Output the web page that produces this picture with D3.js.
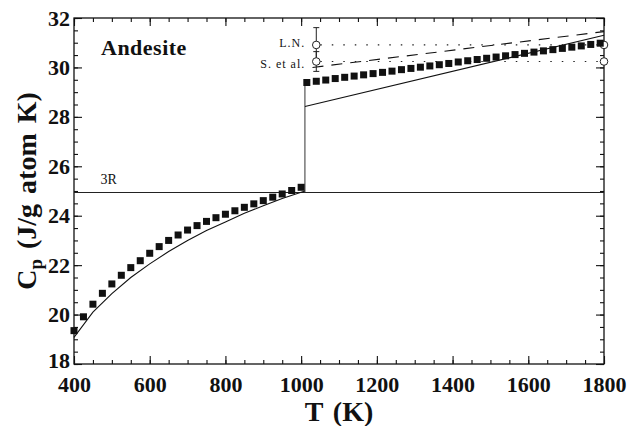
<!DOCTYPE html>
<html><head><meta charset="utf-8">
<script src="https://cdn.jsdelivr.net/npm/d3@7/dist/d3.min.js"></script>
<style>body{margin:0;background:#fff} svg{display:block}</style>
</head><body><svg id="c" width="632" height="426"></svg>
<script>
// ---- data ----
const xTicks = [400, 600, 800, 1000, 1200, 1400, 1600, 1800];
const yTicks = [18, 20, 22, 24, 26, 28, 30, 32];
const lowT  = [400,425,450,475,500,525,550,575,600,625,650,675,700,725,750,775,800,825,850,875,900,925,950,975,1000];
const lowCp = [19.35,19.91,20.42,20.86,21.24,21.59,21.90,22.18,22.48,22.75,23.00,23.22,23.42,23.60,23.77,23.92,24.06,24.20,24.34,24.48,24.61,24.75,24.88,25.02,25.15];
const highT  = [1015,1040,1065,1090,1115,1140,1165,1190,1215,1240,1265,1290,1315,1340,1365,1390,1415,1440,1465,1490,1515,1540,1565,1590,1615,1640,1665,1690,1715,1740,1765,1790];
const highCp = [29.39,29.44,29.49,29.55,29.60,29.65,29.70,29.75,29.80,29.85,29.91,29.96,30.01,30.06,30.11,30.16,30.22,30.27,30.32,30.37,30.42,30.47,30.52,30.57,30.62,30.67,30.72,30.77,30.82,30.87,30.93,30.98];
const modelLowT  = [400,450,500,550,600,650,700,750,800,850,900,950,1010];
const modelLowCp = [19.08,20.10,20.85,21.50,22.05,22.55,23.00,23.40,23.75,24.10,24.40,24.70,25.00];
const modelHighT  = [1010, 1800];
const modelHighCp = [28.42, 31.30];
const dashT  = [1030, 1800];
const dashCp = [30.00, 31.45];
const transitionT = 1010;
const transitionCp = [24.94, 29.39];
const threeR = 24.94;
const refNames = ["L.N.", "S. et al."];
const refT = [1040, 1800];
const refCp = [30.91, 30.24];
const refErr = [0.70, 0.40];

// ---- layout ----
const svg = d3.select("#c");
const m = {l: 74, r: 604, t: 18, b: 364};
const x = d3.scaleLinear().domain([400, 1800]).range([m.l, m.r]);
const y = d3.scaleLinear().domain([18, 32]).range([m.b, m.t]);
const serif = "'Liberation Serif','Times New Roman',serif";
const W = m.r - m.l, H = m.b - m.t;

// minor ticks
const xMinor = d3.range(400, 1801, 50), yMinor = d3.range(18, 32.01, 0.5);
function styleAxis(g){ g.select(".domain").remove(); g.selectAll("line").attr("stroke","#111").attr("stroke-width",1.1); }
svg.append("g").attr("transform",`translate(0,${m.b})`).call(d3.axisBottom(x).tickValues(xMinor).tickSize(-4).tickFormat("")).call(styleAxis);
svg.append("g").attr("transform",`translate(0,${m.t})`).call(d3.axisTop(x).tickValues(xMinor).tickSize(-4).tickFormat("")).call(styleAxis);
svg.append("g").attr("transform",`translate(${m.l},0)`).call(d3.axisLeft(y).tickValues(yMinor).tickSize(-4).tickFormat("")).call(styleAxis);
svg.append("g").attr("transform",`translate(${m.r},0)`).call(d3.axisRight(y).tickValues(yMinor).tickSize(-4).tickFormat("")).call(styleAxis);
// major ticks + labels
const gx = svg.append("g").attr("transform",`translate(0,${m.b})`).call(d3.axisBottom(x).tickValues(xTicks).tickSize(-8).tickPadding(12).tickFormat(d3.format("d"))).call(styleAxis);
svg.append("g").attr("transform",`translate(0,${m.t})`).call(d3.axisTop(x).tickValues(xTicks).tickSize(-8).tickFormat("")).call(styleAxis);
const gy = svg.append("g").attr("transform",`translate(${m.l},0)`).call(d3.axisLeft(y).tickValues(yTicks).tickSize(-8).tickPadding(4).tickFormat(d3.format("d"))).call(styleAxis);
svg.append("g").attr("transform",`translate(${m.r},0)`).call(d3.axisRight(y).tickValues(yTicks).tickSize(-8).tickFormat("")).call(styleAxis);
[gx, gy].forEach(g => g.selectAll("text").attr("font-family", serif).attr("font-weight","bold").attr("font-size", 22).attr("fill","#111"));
gy.selectAll("text").filter(d => d === 18).attr("dy", "0.18em");

// frame
svg.append("rect").attr("x",m.l).attr("y",m.t).attr("width",W).attr("height",H).attr("fill","none").attr("stroke","#111").attr("stroke-width",1.3);

// 3R line
svg.append("line").attr("x1",m.l).attr("x2",m.r).attr("y1",y(threeR)).attr("y2",y(threeR)).attr("stroke","#222").attr("stroke-width",1.1);
svg.append("text").attr("x",x(470)).attr("y",y(threeR)-8).attr("font-family",serif).attr("font-size",14).attr("fill","#111").text("3R");

// transition line
svg.append("line").attr("x1",x(transitionT)).attr("x2",x(transitionT)).attr("y1",y(transitionCp[0])).attr("y2",y(transitionCp[1])).attr("stroke","#333").attr("stroke-width",1);

const line = d3.line().x(d => x(d[0])).y(d => y(d[1]));
// model curves
svg.append("path").attr("d", line(d3.zip(modelLowT, modelLowCp))).attr("fill","none").attr("stroke","#111").attr("stroke-width",1.1);
svg.append("path").attr("d", line(d3.zip(modelHighT, modelHighCp))).attr("fill","none").attr("stroke","#111").attr("stroke-width",1.1);
// dashed
svg.append("path").attr("d", line(d3.zip(dashT, dashCp))).attr("fill","none").attr("stroke","#111").attr("stroke-width",1.1).attr("stroke-dasharray","11,8");

// reference dotted lines, error bars, circles
refCp.forEach((v, i) => {
  svg.append("line").attr("x1",x(refT[0])+4).attr("x2",x(refT[1])-4).attr("y1",y(v)).attr("y2",y(v))
    .attr("stroke","#222").attr("stroke-width",1.2).attr("stroke-dasharray","1.5,10");
  const cx = x(refT[0]);
  svg.append("line").attr("x1",cx).attr("x2",cx).attr("y1",y(v+refErr[i])).attr("y2",y(v-refErr[i])).attr("stroke","#222").attr("stroke-width",1);
  [v+refErr[i], v-refErr[i]].forEach(e => svg.append("line").attr("x1",cx-3).attr("x2",cx+3).attr("y1",y(e)).attr("y2",y(e)).attr("stroke","#222").attr("stroke-width",1));
  refT.forEach(t => svg.append("circle").attr("cx",x(t)).attr("cy",y(v)).attr("r",3.8).attr("fill","#fff").attr("stroke","#222").attr("stroke-width",1));
  svg.append("text").attr("x",cx-11).attr("y",y(v)+(i===0?2:7)).attr("text-anchor","end")
    .attr("font-family",serif).attr("font-size",12).attr("letter-spacing",1).attr("fill","#111").text(refNames[i]);
});

// squares
const sq = 7;
svg.append("g").selectAll("rect").data(d3.zip(lowT.concat(highT), lowCp.concat(highCp))).join("rect")
  .attr("x", d => x(d[0]) - sq/2).attr("y", d => y(d[1]) - sq/2).attr("width", sq).attr("height", sq).attr("fill","#111");

// texts
svg.append("text").attr("x",101).attr("y",55).attr("font-family",serif).attr("font-weight","bold").attr("font-size",22).attr("letter-spacing",0.5).attr("fill","#111").text("Andesite");
svg.append("text").attr("x",(m.l+m.r)/2).attr("y",421).attr("text-anchor","middle").attr("font-family",serif).attr("font-weight","bold").attr("font-size",28).attr("word-spacing",3).attr("fill","#111").text("T (K)");
const yt = svg.append("text").attr("transform",`translate(36,${(m.t+m.b)/2}) rotate(-90)`).attr("text-anchor","middle")
  .attr("font-family",serif).attr("font-weight","bold").attr("font-size",28).attr("word-spacing",3).attr("fill","#111");
yt.append("tspan").text("C");
yt.append("tspan").attr("font-size",19).attr("dy",6).text("p");
yt.append("tspan").attr("dy",-6).text(" (J/g atom K)");
</script></body></html>
